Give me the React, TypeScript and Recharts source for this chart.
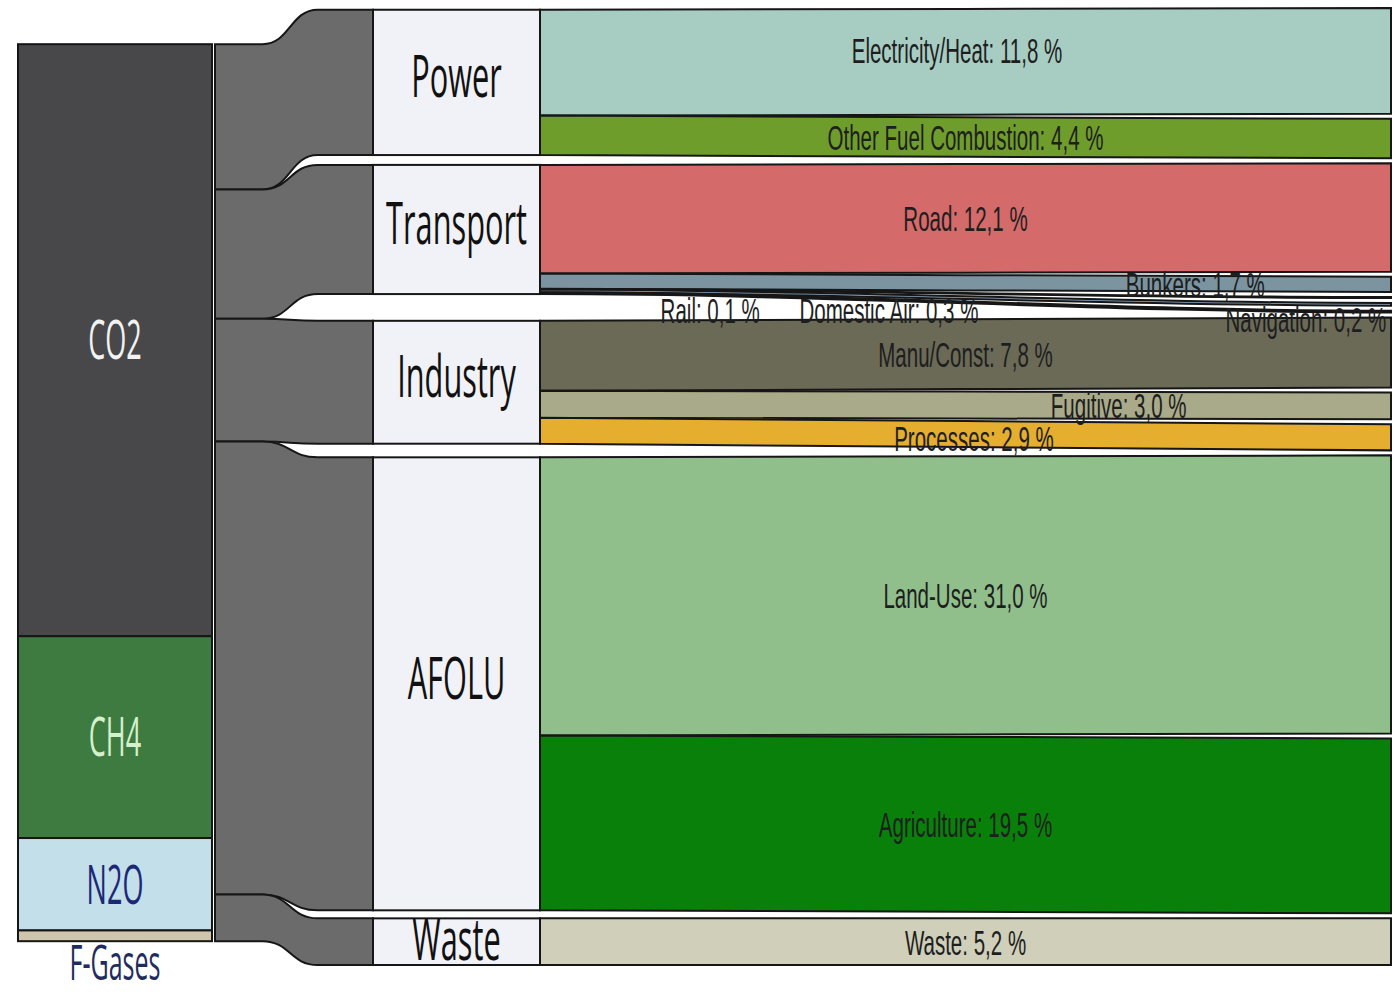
import React from 'react';
import { Sankey } from 'recharts';

// gas split of total emissions (left column)
const GASES = ['CO2', 'CH4', 'N2O', 'F-Gases'];
const GAS_SHARES = [66.0, 22.5, 10.3, 1.2];

// sectors (middle column)
const SECTORS = ['Power', 'Transport', 'Industry', 'AFOLU', 'Waste'];

// subsectors (right column), share of total in %
const SUBSECTORS = [
  'Electricity/Heat',
  'Other Fuel Combustion',
  'Road',
  'Bunkers',
  'Rail',
  'Domestic Air',
  'Navigation',
  'Manu/Const',
  'Fugitive',
  'Processes',
  'Land-Use',
  'Agriculture',
  'Waste',
];
const SUBSECTOR_SECTOR = [
  'Power', 'Power',
  'Transport', 'Transport', 'Transport', 'Transport', 'Transport',
  'Industry', 'Industry', 'Industry',
  'AFOLU', 'AFOLU',
  'Waste',
];
const SUBSECTOR_SHARES = [11.8, 4.4, 12.1, 1.7, 0.1, 0.3, 0.2, 7.8, 3.0, 2.9, 31.0, 19.5, 5.2];

// ---- styling ----
const GAS_COLORS = ['#48484b', '#3e7b41', '#c3dfe9', '#cec7ae'];
const GAS_TEXT = ['#f2f2f2', '#d6f0cc', '#1b2878', '#1f2d5e'];
const SUB_COLORS = [
  '#a7cdc3', '#6f9d2b', '#d56a6a', '#7b94a0', '#5a5a5a', '#8eaecb', '#b3cde0',
  '#6a6a57', '#a9aa89', '#e6ae2e', '#90bf8c', '#08800a', '#cfcfba',
];
// where along the band (0..1, left to right) each label sits, and a vertical nudge
const LABEL_POS: Record<string, { t: number; dy: number }> = {
  'Electricity/Heat': { t: 0.49, dy: -12 },
  Bunkers: { t: 0.77, dy: 0 },
  Rail: { t: 0.2, dy: 20 },
  'Domestic Air': { t: 0.41, dy: 14 },
  Navigation: { t: 0.9, dy: 8 },
  Fugitive: { t: 0.68, dy: 0 },
  Processes: { t: 0.51, dy: 4 },
};

// columns drawn left to right: gases, sectors, subsector ends
const GAS_COL = { x: 18, w: 194 };
const SECTOR_COL = { x: 373, w: 167 };
const END_X = 1391;

const SANS = '"Open Sans", "DejaVu Sans", sans-serif';
const NARROW = '"Liberation Sans", Arial, sans-serif';

const sectorTotal = (s: string) =>
  SUBSECTOR_SHARES.reduce((acc, v, i) => (SUBSECTOR_SECTOR[i] === s ? acc + v : acc), 0);

// The graph is fed right-to-left (subsector -> sector -> gases) so that the
// layout relaxation settles each sector next to its own subsectors.
const nodes = [
  ...SUBSECTORS.map((s, i) => ({ name: s, id: `sub-${i}`, share: SUBSECTOR_SHARES[i], color: SUB_COLORS[i] })),
  ...SECTORS.map((s, i) => ({ name: s, id: `sec-${i}` })),
  { name: 'Gases', id: 'gases' },
];
const SEC0 = SUBSECTORS.length;
const GAS_NODE = SEC0 + SECTORS.length;

const links = [
  ...SUBSECTORS.map((s, i) => ({
    source: i,
    target: SEC0 + SECTORS.indexOf(SUBSECTOR_SECTOR[i]),
    value: SUBSECTOR_SHARES[i],
  })),
  ...SECTORS.map((s, i) => ({ source: SEC0 + i, target: GAS_NODE, value: sectorTotal(s) })),
];

const fmt = (v: number) => `${v.toFixed(1).replace('.', ',')} %`;

// band geometry filled in while links render, read back when labels render
const bandGeom: Record<string, { ly: number; ry: number }> = {};

const Squeezed = ({ x, y, text, size, sx, fill, family }: any) => (
  <text
    transform={`translate(${x} ${y}) scale(${sx} 1)`}
    textAnchor="middle"
    fontSize={size}
    fontFamily={family}
    fill={fill}
  >
    {text}
  </text>
);

const renderLink = (props: any) => {
  const { sourceY, targetY, linkWidth, payload } = props;
  const half = linkWidth / 2;
  // left end sits on the link's target, right end on its source
  const ly = targetY;
  const ry = sourceY;
  const l0 = ly - half;
  const l1 = ly + half;
  const r0 = ry - half;
  const r1 = ry + half;
  if (payload.target.id === 'gases') {
    const lx = GAS_COL.x + GAS_COL.w + 3;
    const rx = SECTOR_COL.x;
    const dx = rx - lx;
    const a = lx + dx * 0.3;
    const b = lx + dx * 0.65;
    const m = (a + b) / 2;
    const d = `M${lx},${l0} L${a},${l0} C${m},${l0} ${m},${r0} ${b},${r0} L${rx},${r0} L${rx},${r1} L${b},${r1} C${m},${r1} ${m},${l1} ${a},${l1} L${lx},${l1} Z`;
    return <path d={d} fill="#6b6b6b" stroke="#161616" strokeWidth={2} />;
  }
  const lx = SECTOR_COL.x + SECTOR_COL.w;
  const rx = END_X;
  const dx = rx - lx;
  const c1 = lx + dx / 3;
  const c2 = lx + (dx * 2) / 3;
  bandGeom[payload.source.id] = { ly, ry };
  const d = `M${lx},${l0} C${c1},${l0} ${c2},${r0} ${rx},${r0} L${rx},${r1} C${c2},${r1} ${c1},${l1} ${lx},${l1} Z`;
  return <path d={d} fill={payload.source.color} stroke="#161616" strokeWidth={2} />;
};

const renderNode = (props: any) => {
  const { y, height, payload } = props;
  if (payload.id === 'gases') {
    const total = GAS_SHARES.reduce((a, b) => a + b, 0);
    let acc = 0;
    const { x, w } = GAS_COL;
    return (
      <g>
        {GAS_SHARES.map((v, i) => {
          const y0 = y + (acc / total) * height;
          acc += v;
          const h = (v / total) * height;
          const size = i === 3 ? 50 : 54;
          const cap = size * 0.714;
          const labelY = i === 3 ? Math.min(y + height + 42, 980) : y0 + h / 2 + cap / 2;
          return (
            <g key={GASES[i]}>
              <rect x={x} y={y0} width={w} height={h} fill={GAS_COLORS[i]} stroke="#161616" strokeWidth={2} />
              <Squeezed x={x + w / 2} y={labelY} text={GASES[i]} size={size} sx={0.5} fill={GAS_TEXT[i]} family={SANS} />
            </g>
          );
        })}
      </g>
    );
  }
  if (payload.depth === 1) {
    const { x, w } = SECTOR_COL;
    const size = 58;
    return (
      <g>
        <rect x={x} y={y} width={w} height={height} fill="#f1f2f8" stroke="#161616" strokeWidth={2} />
        <Squeezed
          x={x + w / 2}
          y={y + height / 2 + size * 0.357 - Math.min(6, height * 0.05)}
          text={payload.name}
          size={size}
          sx={0.53}
          fill="#111"
          family={SANS}
        />
      </g>
    );
  }
  const g = bandGeom[payload.id];
  if (!g) return <g />;
  const pos = LABEL_POS[payload.name] || { t: 0.5, dy: 0 };
  const lx = SECTOR_COL.x + SECTOR_COL.w;
  const t = pos.t;
  const cy = g.ly + (g.ry - g.ly) * (3 * t * t - 2 * t * t * t);
  const size = 36;
  return (
    <Squeezed
      x={lx + (END_X - lx) * t}
      y={cy + pos.dy + size * 0.358}
      text={`${payload.name}: ${fmt(payload.share)}`}
      size={size}
      sx={0.57}
      fill="#1e1e1e"
      family={NARROW}
    />
  );
};

export default function App() {
  return (
    <div style={{ position: 'absolute', left: 0, top: 0, width: 1396, height: 995, background: '#fff' }}>
      <Sankey
        width={1396}
        height={995}
        data={{ nodes, links }}
        margin={{ top: 8, right: 5, bottom: 30, left: 18 }}
        nodeWidth={10}
        nodePadding={5}
        iterations={1}
        sort={false}
        node={renderNode}
        link={renderLink}
        isAnimationActive={false}
      />
    </div>
  );
}
